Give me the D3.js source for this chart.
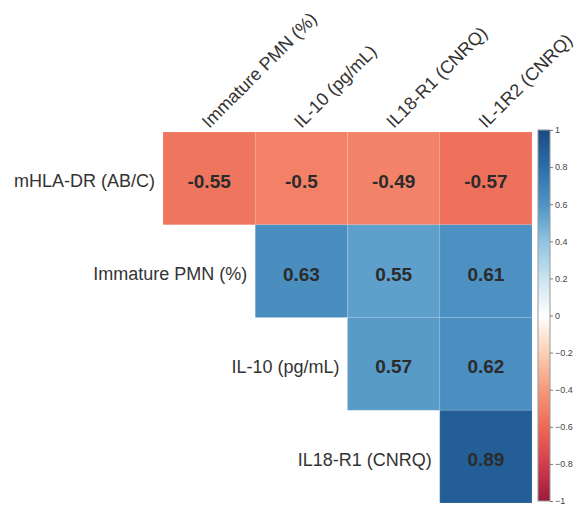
<!DOCTYPE html>
<html><head><meta charset="utf-8">
<script src="https://cdn.jsdelivr.net/npm/d3@7"></script>
<style>body{margin:0;background:#fff}</style>
</head><body>
<svg id="c" width="579" height="509"></svg>
<script>
const rowLabels = ["mHLA-DR (AB/C)", "Immature PMN (%)", "IL-10 (pg/mL)", "IL18-R1 (CNRQ)"];
const colLabels = ["Immature PMN (%)", "IL-10 (pg/mL)", "IL18-R1 (CNRQ)", "IL-1R2 (CNRQ)"];
const values = [
  [-0.55, -0.50, -0.49, -0.57],
  [0.63, 0.55, 0.61],
  [0.57, 0.62],
  [0.89]
];
const legendTicks = [1, 0.8, 0.6, 0.4, 0.2, 0, -0.2, -0.4, -0.6, -0.8, -1];
const colorStops = [-1, -0.8, -0.6, -0.4, -0.2, 0, 0.2, 0.4, 0.6, 0.8, 1];
const colorRange = ["#9a1b3c", "#d33d4f", "#ee6a55", "#f5987a", "#fbd0b5", "#ffffff", "#c9e3f0", "#8ec3e0", "#4f93c4", "#2b6fa9", "#1b4a82"];

const svg = d3.select("#c");
const FONT = "Liberation Sans, Arial, sans-serif";
const color = d3.scaleLinear().domain(colorStops).range(colorRange);
const x = d3.scaleBand().domain(colLabels).range([163, 532]).padding(0);
const y = d3.scaleBand().domain(rowLabels).range([132, 503]).padding(0);

const cells = [];
values.forEach((row, i) => row.forEach((v, k) => {
  cells.push({r: rowLabels[i], c: colLabels[i + k], v});
}));

svg.selectAll("rect.cell").data(cells).join("rect").attr("class", "cell")
  .attr("x", d => x(d.c)).attr("y", d => y(d.r))
  .attr("width", x.bandwidth()).attr("height", y.bandwidth())
  .attr("fill", d => color(d.v))
  .attr("stroke", "rgba(255,255,255,0.1)").attr("stroke-width", 1);

const fmt = v => { let s = v.toFixed(2); if (s.endsWith("0")) s = s.slice(0, -1); return s; };

svg.selectAll("text.val").data(cells).join("text").attr("class", "val")
  .attr("x", d => x(d.c) + x.bandwidth() / 2)
  .attr("y", d => y(d.r) + y.bandwidth() / 2 + 3)
  .attr("text-anchor", "middle").attr("dominant-baseline", "central")
  .attr("font-family", FONT)
  .attr("font-weight", "bold").attr("font-size", 19).attr("fill", "#2b2b2b")
  .text(d => fmt(d.v));

// row labels
svg.selectAll("text.rl").data(rowLabels).join("text").attr("class", "rl")
  .attr("x", (d, i) => x(colLabels[i]) - 8)
  .attr("y", d => y(d) + y.bandwidth() / 2 + 3)
  .attr("text-anchor", "end").attr("dominant-baseline", "central")
  .attr("font-family", FONT)
  .attr("font-size", 18).attr("fill", "#333")
  .text(d => d);

// column labels
svg.selectAll("text.cl").data(colLabels).join("text").attr("class", "cl")
  .attr("transform", d => `translate(${x(d) + x.bandwidth() / 2},${y(rowLabels[0]) - 3}) rotate(-45)`)
  .attr("text-anchor", "start")
  .attr("font-family", FONT)
  .attr("font-size", 18).attr("fill", "#333")
  .text(d => d);

// colorbar
const cb = d3.scaleLinear().domain([-1, 1]).range([501, 130]);
const defs = svg.append("defs");
const grad = defs.append("linearGradient").attr("id", "g").attr("x1", 0).attr("x2", 0).attr("y1", 1).attr("y2", 0);
grad.selectAll("stop").data(colorStops).join("stop")
  .attr("offset", d => (d + 1) / 2).attr("stop-color", d => color(d));
svg.append("rect").attr("x", 538).attr("y", cb(1)).attr("width", 12).attr("height", cb(-1) - cb(1))
  .attr("fill", "url(#g)").attr("stroke", "#999").attr("stroke-width", 1);
const axis = d3.axisRight(cb).tickValues(legendTicks).tickSize(3).tickFormat(d3.format(""));
const ag = svg.append("g").attr("transform", "translate(550,0)").call(axis);
ag.select(".domain").remove();
ag.selectAll("line").attr("stroke", "#777");
ag.selectAll("text").attr("font-family", FONT).attr("font-size", 9).attr("fill", "#444").attr("x", 5);
</script>
</body></html>
